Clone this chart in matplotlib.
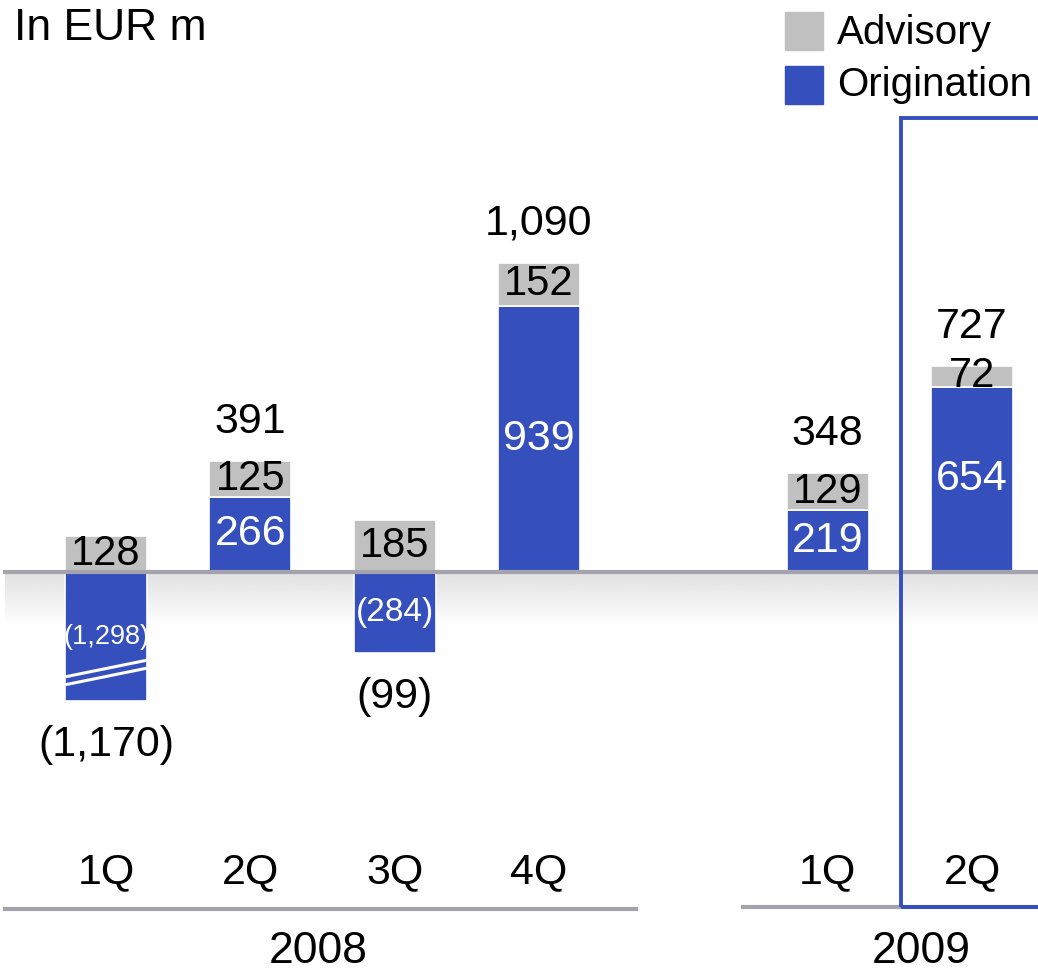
import numpy as np
import matplotlib.pyplot as plt
from matplotlib.patches import Rectangle

# =============================================================================
# Data (EUR m)
# =============================================================================
quarters = ['1Q', '2Q', '3Q', '4Q', '1Q', '2Q']
years = ['2008', '2009']
advisory = [128, 125, 185, 152, 129, 72]
origination = [-1298, 266, -284, 939, 219, 654]
totals = [-1170, 391, -99, 1090, 348, 727]

# 1Q 2008 bar is drawn broken (shortened) in the chart
broken_idx = 0
broken_display = -455

xpos = np.array([0, 1, 2, 3, 5, 6])

blue = '#3550BC'
grey = '#C0C0C0'
axis_grey = '#A3A2AD'

def fmt(v):
    s = '{:,}'.format(abs(v))
    return '(' + s + ')' if v < 0 else s

# =============================================================================
# Plotting
# =============================================================================
plt.rcParams['font.family'] = ['Liberation Sans', 'DejaVu Sans']

fig = plt.figure(figsize=(10.38, 9.72), dpi=100)
ax = fig.add_axes([0, 0, 1, 1])
ax.set_xlim(-0.734, 6.457)
ax.set_ylim(-1411, 2018)
ax.axis('off')

# soft shadow under the zero line
grad = np.linspace(0.88, 1.0, 100).reshape(-1, 1)
ax.imshow(grad, cmap='gray', vmin=0, vmax=1, aspect='auto',
          extent=(-0.70, 6.457, -190, 0), zorder=0)

orig_disp = list(origination)
orig_disp[broken_idx] = broken_display

w = 0.57
ax.bar(xpos, orig_disp, width=w, color=blue, edgecolor='white', linewidth=1.2, zorder=2)
ax.bar(xpos, advisory, width=w, bottom=[max(o, 0) for o in orig_disp],
       color=grey, edgecolor='white', linewidth=1.2, zorder=2)

# break marks on the shortened bar
xb = xpos[broken_idx]
for off in (0, 28):
    ax.plot([xb - w / 2, xb + w / 2],
            [broken_display + 57 + off, broken_display + 116 + off],
            color='white', lw=2.2, zorder=3, solid_capstyle='butt')

# zero line
ax.plot([-0.70, 6.457], [0, 0], color=axis_grey, lw=3, zorder=4)

for i, x in enumerate(xpos):
    o = orig_disp[i]
    a = advisory[i]
    base = max(o, 0)
    # advisory label
    ax.text(x, base + a / 2, fmt(a), ha='center', va='center', fontsize=30,
            color='black', zorder=5)
    # origination label
    fs = 31
    if origination[i] < 0:
        fs = 24 if abs(origination[i]) < 1000 else 19.5
    ax.text(x, o / 2, fmt(origination[i]), ha='center', va='center',
            fontsize=fs, color='white', zorder=5)
    # total label
    if totals[i] >= 0:
        ax.annotate(fmt(totals[i]), (x, base + a), xytext=(0, 28),
                    textcoords='offset points', ha='center', va='center',
                    fontsize=31, zorder=5)
    else:
        ax.annotate(fmt(totals[i]), (x, o), xytext=(0, -32),
                    textcoords='offset points', ha='center', va='center',
                    fontsize=31, zorder=5)
    ax.text(x, -1058, quarters[i], ha='center', va='center', fontsize=31)

# year separators
ax.plot([-0.70, 3.67], [-1189, -1189], color=axis_grey, lw=3)
ax.plot([4.41, 6.457], [-1182, -1182], color=axis_grey, lw=3)
ax.text(1.47, -1378, years[0], ha='center', va='baseline', fontsize=32)
ax.text(5.65, -1378, years[1], ha='center', va='baseline', fontsize=32)

# highlight current quarter
ax.add_patch(Rectangle((5.51, -1182), 1.2, 2783, fill=False, edgecolor=blue,
                       lw=2.8, zorder=6, clip_on=True))

# unit and legend
fig.text(14 / 1038, 1 - 28 / 972, 'In EUR m', ha='left', va='center', fontsize=32)
fig.patches.append(Rectangle((785 / 1038, 1 - 50 / 972), 38 / 1038, 38 / 972,
                             transform=fig.transFigure, color=grey))
fig.patches.append(Rectangle((785 / 1038, 1 - 104 / 972), 38 / 1038, 38 / 972,
                             transform=fig.transFigure, color=blue))
fig.text(837 / 1038, 1 - 33 / 972, 'Advisory', ha='left', va='center', fontsize=29)
fig.text(837 / 1038, 1 - 85 / 972, 'Origination', ha='left', va='center', fontsize=29)

plt.savefig('out.png', dpi=100)
